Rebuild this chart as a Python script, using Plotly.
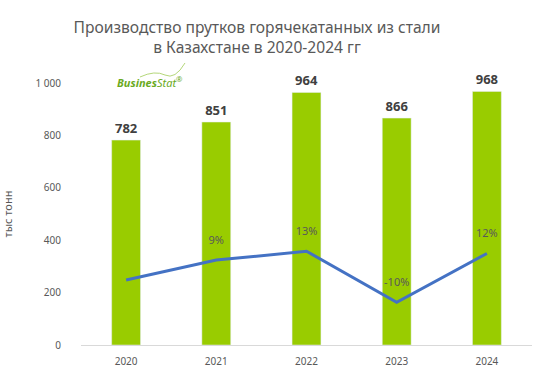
import plotly.graph_objects as go

years = ["2020", "2021", "2022", "2023", "2024"]
production = [782, 851, 964, 866, 968]
growth = [0, 9, 13, -10, 12]
growth_labels = ["", "9%", "13%", "-10%", "12%"]
y_ticks = [0, 200, 400, 600, 800, 1000]
y_tick_text = ["0", "200", "400", "600", "800", "1 000"]

FONT = "Noto Sans"
GRAY = "#595959"

fig = go.Figure()
fig.add_trace(go.Bar(
    x=years, y=production,
    marker_color="#99cc00",
    text=[str(v) for v in production],
    textposition="outside",
    textfont=dict(family=FONT, size=13, color="#404040", weight="bold"),
    cliponaxis=False,
    hoverinfo="skip",
))
fig.add_trace(go.Scatter(
    x=years, y=growth, yaxis="y2",
    mode="lines+markers+text",
    line=dict(color="#4472c4", width=3),
    marker=dict(size=20, color="rgba(0,0,0,0)"),
    text=growth_labels,
    textposition="top center",
    textfont=dict(family=FONT, size=11, color=GRAY),
    cliponaxis=False,
    hoverinfo="skip",
))

fig.update_layout(
    width=558, height=386,
    margin=dict(l=81, r=26, t=83, b=41),
    paper_bgcolor="white", plot_bgcolor="white",
    showlegend=False,
    bargap=0.68,
    font=dict(family=FONT, color=GRAY),
    title=dict(
        text="Производство прутков горячекатанных из стали<br>в Казахстане в 2020-2024 гг",
        x=257/558, xanchor="center", xref="container",
        y=1 - 33/386, yanchor="middle", yref="container",
        font=dict(family=FONT, size=15.6, color=GRAY),
    ),
    xaxis=dict(
        type="category",
        range=[-0.5, len(years) - 0.5],
        automargin=False,
        showline=True, linecolor="#d9d9d9", linewidth=1,
        ticks="outside", ticklen=7, tickcolor="rgba(0,0,0,0)",
        tickfont=dict(size=10, color=GRAY),
        showgrid=False,
    ),
    yaxis=dict(
        automargin=False,
        range=[0, 1000], tickvals=y_ticks, ticktext=y_tick_text,
        showgrid=False, zeroline=False, showline=False,
        tickfont=dict(size=10, color=GRAY),
        ticks="outside", ticklen=17, tickcolor="rgba(0,0,0,0)",
        title=dict(text="тыс тонн", font=dict(size=11, color=GRAY), standoff=36),
    ),
    yaxis2=dict(
        overlaying="y", range=[-29.3, 88.9], visible=False,
    ),
)

fig.add_annotation(
    text="<i><b>Busines</b>Stat</i><sup>®</sup>",
    xref="paper", yref="paper", x=(115-81)/451, y=(345-82)/262,
    xanchor="left", yanchor="middle", showarrow=False,
    font=dict(family=FONT, size=11, color="#6aaa1e"),
)
fig.add_shape(
    type="path", xref="paper", yref="paper",
    path="M %f %f Q %f %f %f %f T %f %f" % (
        (140-81)/451, (345-77)/262,
        (155-81)/451, (345-70)/262,
        (165-81)/451, (345-75)/262,
        (185-81)/451, (345-63)/262),
    line=dict(color="#b5d77a", width=1),
)

fig.write_html("out.html", config={"displayModeBar": False},
               post_script="document.body.style.margin='0';")
